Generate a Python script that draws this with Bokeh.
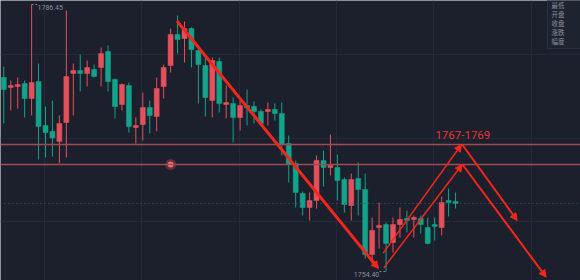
from bokeh.plotting import figure
from bokeh.models import Range1d, FixedTicker, Arrow, NormalHead, Span, ColumnDataSource
from bokeh.embed import file_html
from bokeh.resources import INLINE
from bokeh.core.properties import value

# ---------------- data ----------------
opens = [1777.69, 1776.49, 1776.61, 1776.97, 1775.17, 1777.21, 1771.93, 1771.21, 1770.01, 1772.29,
         1778.17, 1778.53, 1778.17, 1778.65, 1778.89, 1780.81, 1777.45, 1774.45, 1776.73, 1771.69,
         1772.05, 1774.09, 1773.01, 1776.61, 1779.13, 1782.85, 1782.37, 1783.57, 1780.93, 1779.13,
         1774.93, 1779.61, 1774.45, 1774.57, 1772.89, 1774.33, 1774.21, 1773.61, 1773.61, 1773.85,
         1773.37, 1769.77, 1767.37, 1763.77, 1762.09, 1762.93, 1767.73, 1766.89, 1766.89, 1765.45,
         1762.33, 1765.57, 1764.25, 1756.45, 1759.69, 1760.05, 1757.89, 1760.05, 1760.77, 1760.65,
         1760.77, 1759.69, 1760.05, 1759.69, 1762.93, 1762.81]
closes = [1776.25, 1776.73, 1776.85, 1775.17, 1777.09, 1771.81, 1771.09, 1770.43, 1772.17, 1777.81,
          1778.53, 1778.17, 1778.89, 1777.81, 1780.57, 1777.21, 1774.21, 1776.85, 1771.81, 1771.93,
          1774.09, 1773.13, 1776.37, 1778.89, 1782.85, 1782.25, 1783.57, 1781.05, 1779.25, 1775.29,
          1779.73, 1774.57, 1774.69, 1772.89, 1774.33, 1774.03, 1773.61, 1772.17, 1773.85, 1773.37,
          1769.65, 1767.25, 1763.89, 1762.09, 1762.93, 1767.73, 1766.89, 1767.13, 1765.33, 1762.45,
          1765.45, 1764.25, 1756.45, 1759.33, 1759.93, 1757.77, 1760.05, 1760.65, 1760.53, 1760.89,
          1760.05, 1757.77, 1759.81, 1762.69, 1762.69, 1762.57]
highs = [1779.01, 1777.33, 1777.69, 1777.33, 1786.45, 1779.37, 1774.21, 1774.93, 1773.13, 1785.73,
         1779.37, 1780.45, 1779.73, 1779.25, 1781.29, 1781.53, 1777.57, 1776.97, 1777.09, 1772.89,
         1775.89, 1774.93, 1777.69, 1779.25, 1783.57, 1785.13, 1784.41, 1783.69, 1781.53, 1780.09,
         1780.09, 1780.09, 1776.73, 1775.29, 1774.93, 1776.25, 1774.81, 1773.85, 1774.69, 1774.57,
         1774.69, 1770.73, 1767.73, 1764.01, 1763.89, 1768.33, 1768.93, 1770.85, 1768.45, 1765.69,
         1766.17, 1767.49, 1766.17, 1760.89, 1762.69, 1760.29, 1760.89, 1762.09, 1761.73, 1761.13,
         1761.13, 1760.89, 1760.89, 1763.41, 1764.37, 1763.89]
lows = [1772.17, 1773.73, 1773.97, 1772.89, 1773.13, 1767.85, 1768.09, 1768.21, 1767.37, 1768.09,
        1773.13, 1776.01, 1776.61, 1777.69, 1776.61, 1776.01, 1772.77, 1773.73, 1771.09, 1769.77,
        1770.13, 1770.97, 1771.21, 1775.17, 1778.29, 1780.57, 1779.49, 1778.89, 1774.57, 1773.01,
        1772.89, 1773.49, 1772.77, 1769.89, 1771.33, 1771.93, 1772.17, 1771.93, 1771.93, 1772.53,
        1768.33, 1765.09, 1762.09, 1761.13, 1760.53, 1761.97, 1764.61, 1765.93, 1762.93, 1761.49,
        1760.53, 1761.13, 1755.97, 1755.37, 1757.17, 1754.40, 1756.69, 1758.49, 1759.09, 1758.49,
        1758.97, 1757.65, 1758.13, 1758.73, 1761.01, 1761.97]

zone_levels = [1769.65, 1767.25]
zone_label = "1767-1769"
high_label = "1786.45"
low_label = "1754.40"
info_labels = ["最低", "开盘", "收盘", "涨跌", "幅度"]

# hand-drawn arrows (bar index, price)
arrow_x0 = [24.92, 54.59, 54.68, 65.96, 66.00]
arrow_y0 = [1784.47, 1756.61, 1754.85, 1769.65, 1767.25]
arrow_x1 = [53.91, 65.86, 65.96, 73.87, 78.04]
arrow_y1 = [1754.77, 1769.65, 1767.25, 1760.53, 1753.73]

# ---------------- style ----------------
BG = "#1b202c"
GRID = "#232a36"
UP = "#e4505c"
DOWN = "#13a38a"
ZONE = "#a04a54"
ARROW = "#f3261c"
LABEL = "#8b909a"

n = len(opens)
idx = list(range(n))
colors = [UP if c >= o else DOWN for o, c in zip(opens, closes)]
src = ColumnDataSource(dict(
    x=idx, top=[max(o, c) for o, c in zip(opens, closes)],
    bottom=[min(o, c) for o, c in zip(opens, closes)],
    high=highs, low=lows, color=colors))

p = figure(width=580, height=280, x_range=Range1d(-0.475, 82.98),
           y_range=Range1d(1753.33, 1786.93), output_backend="svg",
           toolbar_location=None, min_border=0,
           background_fill_color=BG, border_fill_color=BG, outline_line_color=None)
p.xaxis.visible = False
p.yaxis.visible = False
p.xgrid.ticker = FixedTicker(ticks=[5.86 + 14 * k for k in range(6)])
p.ygrid.ticker = FixedTicker(ticks=[1760.4, 1770.4, 1780.4])
p.grid.grid_line_color = GRID
p.grid.grid_line_width = 1

# current price dotted line
p.add_layout(Span(location=closes[-1], dimension="width", line_color="#22625c",
                  line_width=1, line_dash="1 3"))

# zone lines
for lv in zone_levels:
    p.add_layout(Span(location=lv, dimension="width", line_color=ZONE, line_width=1.3))

# candles
p.segment(x0="x", y0="low", x1="x", y1="high", color="color", line_width=1, source=src)
p.vbar(x="x", width=0.72, top="top", bottom="bottom", fill_color="color",
       line_color="color", line_width=0.5, source=src)

# marker on the lower zone line
p.scatter([24], [zone_levels[1]], size=11, fill_color="#7a3440", fill_alpha=0.7, line_color=None)
p.scatter([24], [zone_levels[1]], size=6, fill_color="#f26b6b", line_color=None)

# high / low labels
hi_i = highs.index(max(highs))
lo_i = lows.index(min(lows))
p.segment([hi_i], [highs[hi_i]], [hi_i + 0.8], [highs[hi_i]], line_color=LABEL,
          line_width=1, line_dash="2 2")
p.text([hi_i + 0.85], [highs[hi_i]], text=[high_label], text_font=value("Roboto"),
       text_font_size="7px", text_color=LABEL, text_baseline="top", text_align="left")
p.segment([lo_i - 0.95], [lows[lo_i]], [lo_i], [lows[lo_i]], line_color=LABEL,
          line_width=1, line_dash="2 2")
p.text([lo_i - 0.97], [lows[lo_i] - 0.1], text=[low_label], text_font=value("Roboto"),
       text_font_size="7px", text_color=LABEL, text_baseline="top", text_align="right")

# arrows
widths = [3, 1.5, 1.5, 2, 2]
for xs, ys, xe, ye, w in zip(arrow_x0, arrow_y0, arrow_x1, arrow_y1, widths):
    p.add_layout(Arrow(x_start=xs, y_start=ys, x_end=xe, y_end=ye, line_color=ARROW,
                       line_width=w,
                       end=NormalHead(size=7, fill_color=ARROW, line_color=ARROW, line_width=1)))

# zone label
p.text([62.1], [zone_levels[0] + 0.62], text=[zone_label], text_font=value("Roboto"),
       text_font_size="11.5px", text_color="#e8352c", text_baseline="bottom",
       text_align="left")

# info box (top right)
p.quad(left=[78.23], right=[84.0], bottom=[1781.17], top=[1788.0],
       fill_color="#1e2330", line_color="#2a3140", line_width=1)
p.text([78.8] * len(info_labels),
       [1786.38 - 1.08 * k for k in range(len(info_labels))],
       text=info_labels, text_font=value("Noto Sans CJK SC"), text_font_size="6.5px",
       text_color=LABEL, text_baseline="middle", text_align="left")

open("out.html", "w").write(file_html(p, INLINE))
